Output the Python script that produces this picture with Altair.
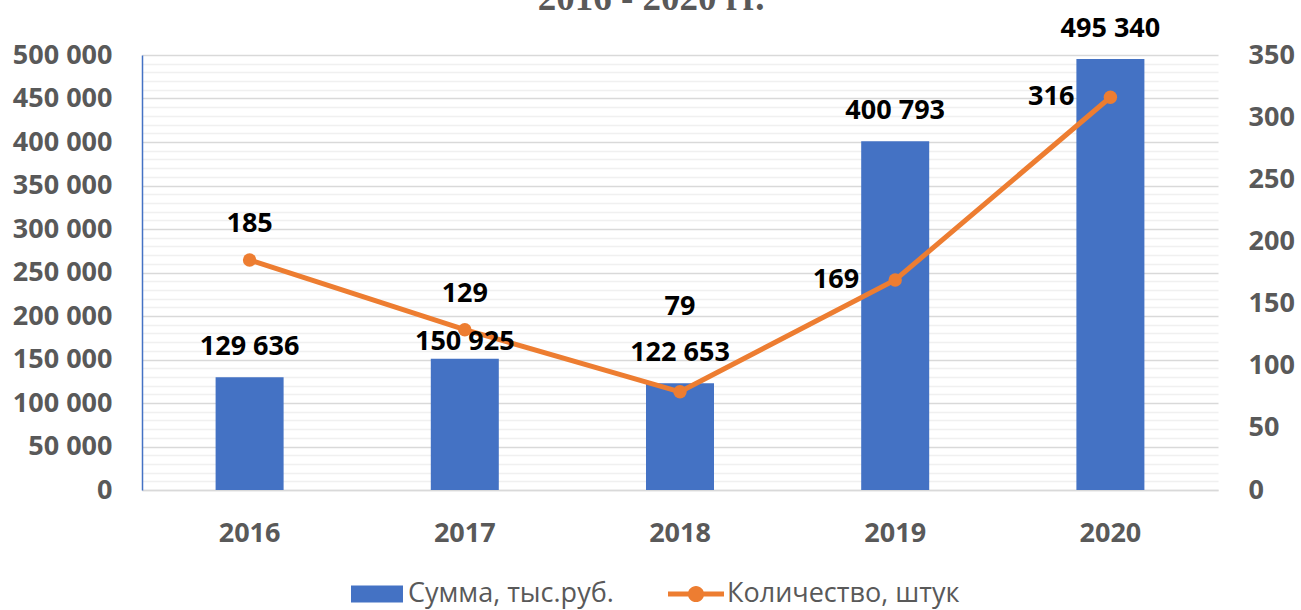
import altair as alt
import pandas as pd

# ---- data ----
years = ["2016", "2017", "2018", "2019", "2020"]
sums = [129636, 150925, 122653, 400793, 495340]
counts = [185, 129, 79, 169, 316]
series_sum = "Сумма, тыс.руб."
series_count = "Количество, штук"
title_text = "2016 - 2020 гг."
left_ticks = list(range(0, 500001, 10000))
right_ticks = list(range(0, 351, 50))

df = pd.DataFrame({"year": years, "sum": sums, "count": counts})

BLUE = "#4472C4"
ORANGE = "#ED7D31"
GRAY = "#595959"
FONT = "Open Sans"
FS = 27

RECT_PATH = "M-1,-0.3 L0.857,-0.3 L0.857,0.3 L-1,0.3 Z"
LINE_PATH = ("M-1,-0.09 L1,-0.09 L1,0.09 L-1,0.09 Z "
             "M-0.29,0 A0.29,0.29 0 1,1 0.29,0 A0.29,0.29 0 1,1 -0.29,0 Z")

base = alt.Chart(df).transform_calculate(
    sum_label="replace(format(datum.sum, ','), ',', ' ')",
    s1="'" + series_sum + "'",
    s2="'" + series_count + "'",
).encode(
    x=alt.X(
        "year:O",
        title=None,
        scale=alt.Scale(paddingInner=0.684, paddingOuter=0.342),
        axis=alt.Axis(
            labelAngle=0, ticks=False, grid=False,
            domainColor="#D9D9D9", domainWidth=1.5,
            labelFont=FONT, labelFontSize=FS, labelFontWeight="bold",
            labelColor=GRAY, labelPadding=30,
        ),
    )
)

left_scale = alt.Scale(domain=[0, 500000], nice=False)
right_scale = alt.Scale(domain=[0, 350], nice=False)

yl = alt.Y(
    "sum:Q", title=None, scale=left_scale,
    axis=alt.Axis(
        orient="left", values=left_ticks, labelOverlap=False,
        labelExpr="datum.value % 50000 === 0 ? replace(format(datum.value, ','), ',', ' ') : ''",
        ticks=False, domainColor=BLUE, domainWidth=1.5,
        grid=True, gridWidth=1.5,
        gridColor=alt.condition("datum.value % 50000 === 0", alt.value("#D9D9D9"), alt.value("#F0F0F0")),
        labelFont=FONT, labelFontSize=FS, labelFontWeight="bold",
        labelColor=GRAY, labelPadding=30,
    ),
)
yl_noaxis = alt.Y("sum:Q", title=None, scale=left_scale, axis=None)

yr = alt.Y(
    "count:Q", title=None, scale=right_scale,
    axis=alt.Axis(
        orient="right", values=right_ticks, labelOverlap=False,
        ticks=False, domain=False, grid=False,
        labelFont=FONT, labelFontSize=FS, labelFontWeight="bold",
        labelColor=GRAY, labelPadding=30,
    ),
)

bars = base.mark_bar().encode(
    y=yl,
    color=alt.Color(
        "s1:N", scale=alt.Scale(range=[BLUE]),
        legend=alt.Legend(
            orient="none", legendX=209, legendY=511, title=None,
            symbolType=RECT_PATH, symbolSize=3136, symbolStrokeWidth=0,
            symbolOpacity=1, labelFont=FONT, labelFontSize=FS,
            labelColor=GRAY, labelOffset=1, labelLimit=400, padding=0,
        ),
    ),
)

text_style = dict(font=FONT, fontSize=FS, fontWeight="bold", color="black", baseline="middle")

line = base.mark_line(color=ORANGE, strokeWidth=5).encode(y=yr)
pts = base.mark_point(filled=True, size=180, opacity=1).encode(
    y=yr,
    color=alt.Color(
        "s2:N", scale=alt.Scale(range=[ORANGE]),
        legend=alt.Legend(
            orient="none", legendX=526, legendY=511, title=None,
            symbolType=LINE_PATH, symbolSize=3136, symbolStrokeWidth=0,
            symbolOpacity=1, labelFont=FONT, labelFontSize=FS,
            labelColor=GRAY, labelOffset=3, labelLimit=400, padding=0,
        ),
    ),
)
cnt_above = base.mark_text(dy=-36, **text_style).encode(
    y=yr, text=alt.Text("count:Q")
).transform_filter("datum.year == '2016' || datum.year == '2017'")
cnt_2018 = base.mark_text(dy=-85, **text_style).encode(
    y=yr, text=alt.Text("count:Q")
).transform_filter("datum.year == '2018'")
cnt_left = base.mark_text(dx=-36, align="right", **text_style).encode(
    y=yr, text=alt.Text("count:Q")
).transform_filter("datum.year == '2019' || datum.year == '2020'")

sum_lab = base.mark_text(dy=-30, **text_style).encode(
    y=yl_noaxis, text="sum_label:N"
).transform_filter("datum.year != '2017'")
sum_lab17 = base.mark_text(dy=-17, **text_style).encode(
    y=yl_noaxis, text="sum_label:N"
).transform_filter("datum.year == '2017'")

chart = alt.layer(
    bars,
    alt.layer(line, pts, cnt_above, cnt_2018, cnt_left),
    alt.layer(sum_lab, sum_lab17),
).resolve_scale(
    y="independent", color="independent"
).resolve_legend(
    color="independent"
).properties(
    width=1076,
    height=435,
    autosize=alt.AutoSizeParams(type="none"),
    padding={"left": 142, "top": 55, "right": 83, "bottom": 120},
    title=alt.TitleParams(
        text=title_text, font="Liberation Serif", fontSize=37,
        fontWeight="bold", color=GRAY, anchor="middle",
        baseline="alphabetic", offset=4, dx=-29, dy=36,
    ),
).configure_view(stroke=None)

chart.save("out.html", embed_options={"renderer": "svg", "actions": False})
